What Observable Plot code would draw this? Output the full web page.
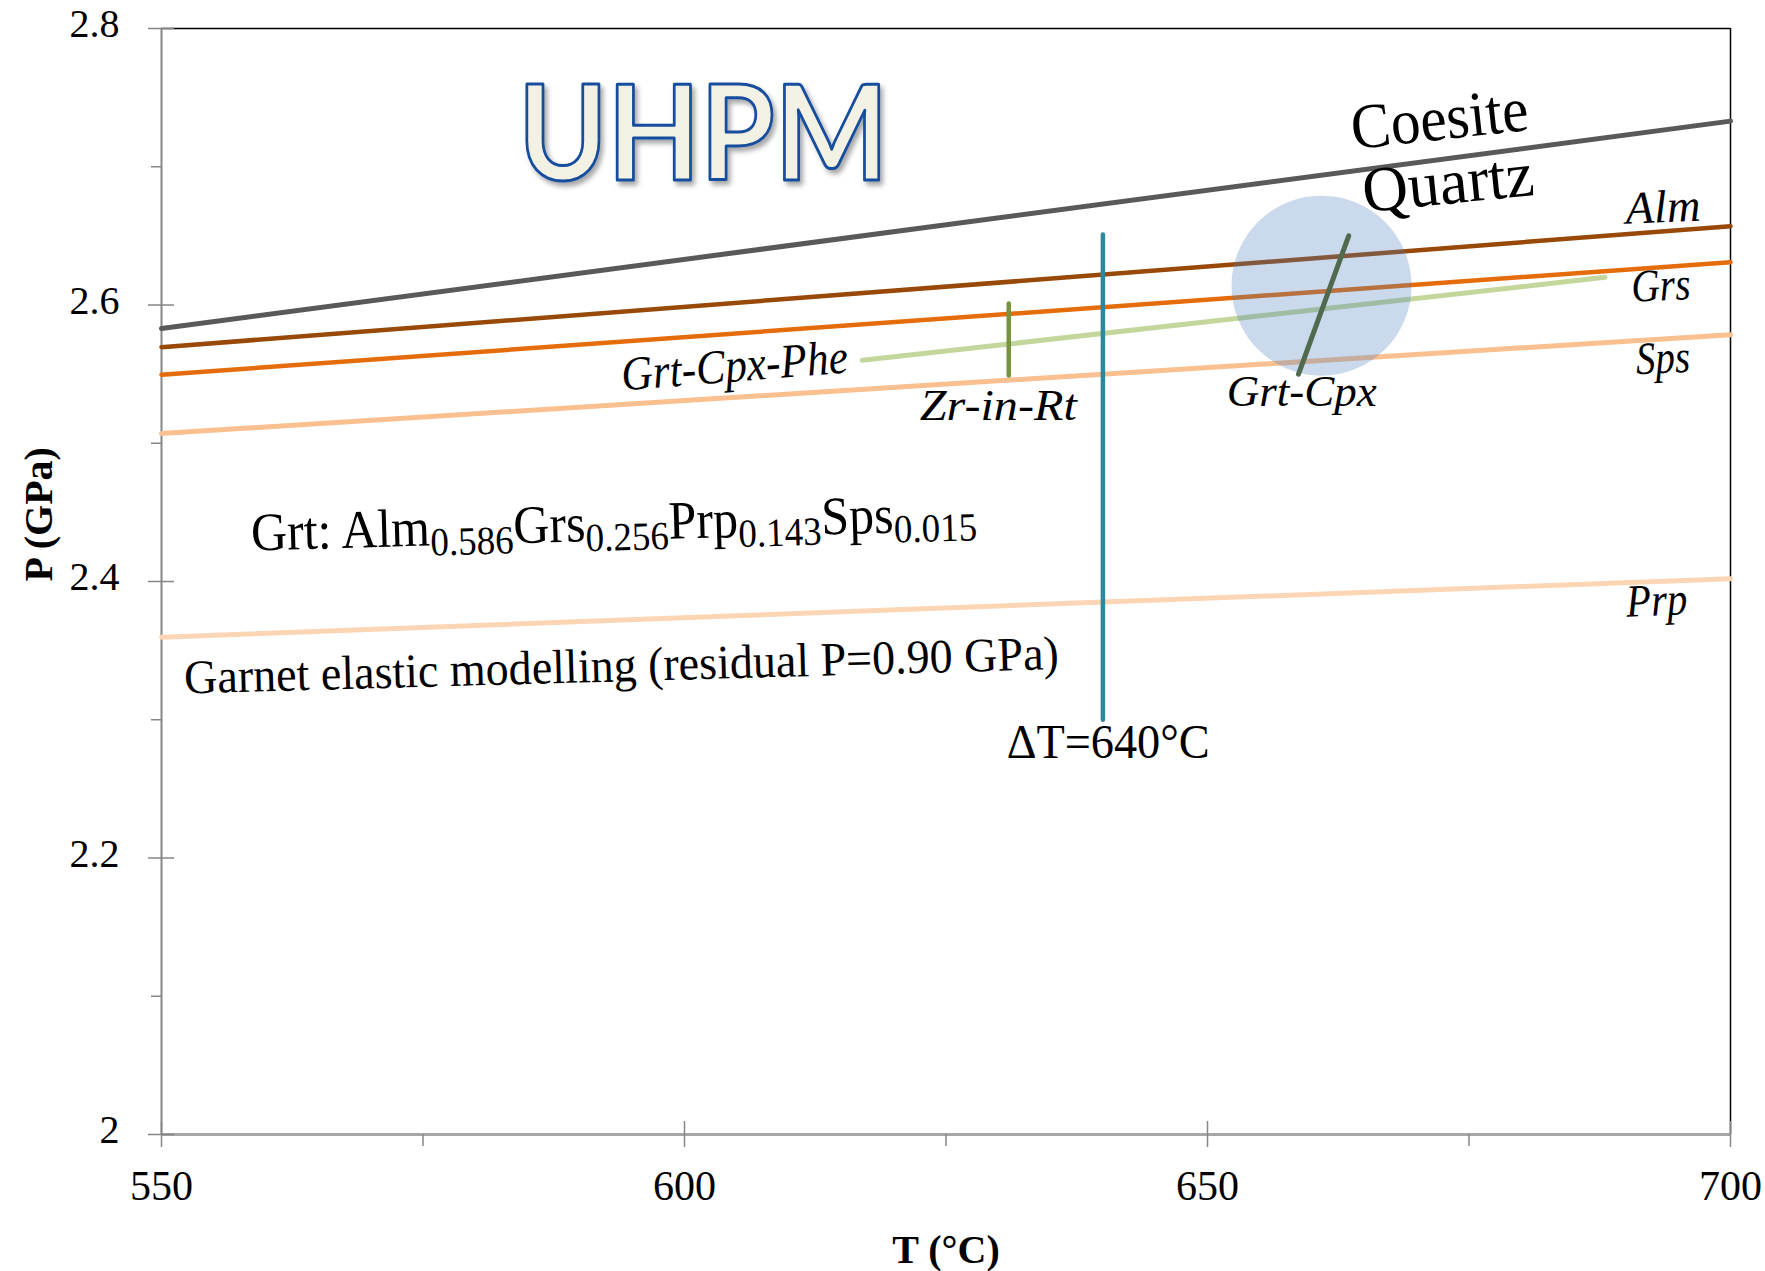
<!DOCTYPE html>
<html>
<head>
<meta charset="utf-8">
<script src="https://cdn.jsdelivr.net/npm/d3@7"></script>
<script src="https://cdn.jsdelivr.net/npm/@observablehq/plot@0.6"></script>
<style>
  html, body { margin: 0; padding: 0; background: #fff; }
  svg text { font-family: "Liberation Serif", serif; }
</style>
</head>
<body>
<div id="chart"></div>
<script>
// ---------- axes ----------
const tDomain = [550, 700];
const pDomain = [2, 2.8];
const tMajorTicks = [550, 600, 650, 700];
const tMinorTicks = [575, 625, 675];
const pMajorTicks = [2, 2.2, 2.4, 2.6, 2.8];
const pMinorTicks = [2.1, 2.3, 2.5, 2.7];

// ---------- boundary / isopleth lines (P at T = 550 and 700 °C) ----------
const boundaryT = [550, 700];
const coesiteQuartzP = [2.583, 2.733];
const almP = [2.5695, 2.657];
const grsP = [2.5496, 2.631];
const spsP = [2.507, 2.5785];
const prpP = [2.3597, 2.402];

// ---------- thermobarometer segments ----------
const grtCpxPheT = [617, 688];
const grtCpxPheP = [2.560, 2.620];
const zrInRtT = [631, 631];
const zrInRtP = [2.549, 2.601];
const deltaTT = [640, 640];
const deltaTP = [2.300, 2.651];
const grtCpxT = [658.7, 663.5];
const grtCpxP = [2.550, 2.650];

// ---------- peak P-T field ----------
const peakT = [660.9];
const peakP = [2.614];

// ---------- labels ----------
const isoplethNames = ["Alm", "Grs", "Sps", "Prp"];
const isoplethLabelT = [693.6, 693.4, 693.6, 693.0];
const isoplethLabelP = [2.660, 2.6033, 2.5508, 2.3754];

const grtFormula = [["Grt: Alm", "0.586"], ["Grs", "0.256"], ["Prp", "0.143"], ["Sps", "0.015"]];
const grtFormulaText = grtFormula.map(d => d.join("")).join("");

const seg = (name, T, P) => T.map((t, i) => ({name, T: t, P: P[i]}));
const pt = (text, T, P) => [{text, T, P}];

const coesiteRows = seg("Coesite-Quartz", boundaryT, coesiteQuartzP);
const almRows = seg("Alm", boundaryT, almP);
const grsRows = seg("Grs", boundaryT, grsP);
const spsRows = seg("Sps", boundaryT, spsP);
const prpRows = seg("Prp", boundaryT, prpP);
const pheRows = seg("Grt-Cpx-Phe", grtCpxPheT, grtCpxPheP);
const zrRows = seg("Zr-in-Rt", zrInRtT, zrInRtP);
const dtRows = seg("ΔT", deltaTT, deltaTP);
const cpxRows = seg("Grt-Cpx", grtCpxT, grtCpxP);
const peakRows = peakT.map((t, i) => ({T: t, P: peakP[i]}));
const isoLabels = isoplethNames.map((n, i) => ({text: n, T: isoplethLabelT[i], P: isoplethLabelP[i]}));

const serif = "Liberation Serif";
const grey = "#868686";
const italic = {x: "T", y: "P", text: "text", fontFamily: serif, fontStyle: "italic", lineAnchor: "bottom", fill: "black"};

const chart = Plot.plot({
  width: 1765,
  height: 1271,
  marginLeft: 161,
  marginRight: 35,
  marginTop: 28,
  marginBottom: 137,
  x: {domain: tDomain},
  y: {domain: pDomain},
  style: {background: "white", fontFamily: serif, color: "black"},
  marks: [
    // frame
    Plot.ruleY([pDomain[1]], {stroke: "black", strokeWidth: 1.5}),
    Plot.ruleX([tDomain[1]], {stroke: "black", strokeWidth: 1.5}),
    Plot.ruleY([pDomain[0]], {stroke: "#A6A6A6", strokeWidth: 3}),
    Plot.ruleX([tDomain[0]], {stroke: grey, strokeWidth: 2}),
    // y axis
    Plot.axisY(pMajorTicks, {tickSize: 0, tickPadding: 42, fontSize: 40, fontFamily: serif, dy: -4, label: null,
      tickFormat: d => String(+d.toFixed(1))}),
    Plot.axisY(pMajorTicks, {tickSize: 26, dx: 13, tickFormat: () => "", label: null, stroke: grey, strokeWidth: 1.5}),
    Plot.axisY(pMinorTicks, {tickSize: 10, tickFormat: () => "", label: null, stroke: grey, strokeWidth: 1.5}),
    // x axis
    Plot.axisX(tMajorTicks, {tickSize: 0, tickPadding: 36, fontSize: 42, fontFamily: serif, label: null}),
    Plot.axisX(tMajorTicks, {tickSize: 26, dy: -13, tickFormat: () => "", label: null, stroke: grey, strokeWidth: 1.5}),
    Plot.axisX(tMinorTicks, {tickSize: 12, tickFormat: () => "", label: null, stroke: grey, strokeWidth: 1.5}),
    // axis titles
    Plot.text(["P (GPa)"], {text: d => d, frameAnchor: "left", dx: -122, rotate: -90, fontSize: 40, fontFamily: serif, fontWeight: "bold", fill: "black"}),
    Plot.text(["T (°C)"], {text: d => d, frameAnchor: "bottom", dy: 128, lineAnchor: "bottom", fontSize: 40, fontFamily: serif, fontWeight: "bold", fill: "black"}),

    // lines
    Plot.line(coesiteRows, {x: "T", y: "P", stroke: "#595959", strokeWidth: 5}),
    Plot.line(almRows, {x: "T", y: "P", stroke: "#984807", strokeWidth: 4.5}),
    Plot.line(grsRows, {x: "T", y: "P", stroke: "#E46C0A", strokeWidth: 4.5}),
    Plot.line(spsRows, {x: "T", y: "P", stroke: "#FAC090", strokeWidth: 5}),
    Plot.line(prpRows, {x: "T", y: "P", stroke: "#FCD5B5", strokeWidth: 5}),
    Plot.line(pheRows, {x: "T", y: "P", stroke: "#C3D69B", strokeWidth: 5, strokeLinecap: "round"}),
    Plot.line(zrRows, {x: "T", y: "P", stroke: "#77933C", strokeWidth: 4.5, strokeLinecap: "round"}),
    Plot.line(dtRows, {x: "T", y: "P", stroke: "#31859C", strokeWidth: 4.5, strokeLinecap: "round"}),
    Plot.dot(peakRows, {x: "T", y: "P", r: 90, fill: "#4F81BD", fillOpacity: 0.3, stroke: null}),
    Plot.line(cpxRows, {x: "T", y: "P", stroke: "#4F6A4F", strokeWidth: 5, strokeLinecap: "round"}),

    // labels
    Plot.text(pt("UHPM", 601.8, 2.6904), {x: "T", y: "P", text: "text", fontFamily: "Lato", fontWeight: "bold",
      fontSize: 132, lineAnchor: "bottom", fill: "#F3F0E4", stroke: "#164D9C", strokeWidth: 3, paintOrder: "normal"}),
    Plot.text(pt("Coesite", 672.4, 2.7197), {...italic, fontStyle: "normal", fontSize: 64, rotate: -6.2}),
    Plot.text(pt("Quartz", 673.2, 2.6734), {...italic, fontStyle: "normal", fontSize: 64, rotate: -5.8}),
    Plot.text(isoLabels, {...italic, fontSize: 46, rotate: -2.5}),
    Plot.text(pt("Grt-Cpx-Phe", 604.9, 2.5447), {...italic, fontSize: 48, rotate: -4.6}),
    Plot.text(pt("Zr-in-Rt", 630.0, 2.5165), {...italic, fontSize: 44}),
    Plot.text(pt("Grt-Cpx", 659.0, 2.5273), {...italic, fontSize: 44}),
    Plot.text(pt("ΔT=640°C", 640.5, 2.272), {...italic, fontStyle: "normal", fontSize: 48}),
    Plot.text(pt(grtFormulaText, 558.6, 2.4224), {...italic, fontStyle: "normal", fontSize: 54, textAnchor: "start", rotate: -1.6}),
    Plot.text(pt("Garnet elastic modelling (residual P=0.90 GPa)", 552.2, 2.319),
      {...italic, fontStyle: "normal", fontSize: 48, textAnchor: "start", rotate: -1.6})
  ]
});

document.getElementById("chart").appendChild(chart);

// ---------- post-processing: subscripts, glyph widths, shadow ----------
const svg = d3.select(chart);
const defs = svg.insert("defs", ":first-child");
const filt = defs.append("filter").attr("id", "uhpmShadow").attr("x", "-10%").attr("y", "-10%").attr("width", "130%").attr("height", "130%");
filt.append("feDropShadow").attr("dx", 3).attr("dy", 4).attr("stdDeviation", 2.5)
  .attr("flood-color", "#000").attr("flood-opacity", 0.35);

const widths = {
  "UHPM": 370,
  "Coesite": 178,
  "Quartz": 172,
  "Alm": 75, "Grs": 59, "Sps": 54, "Prp": 61,
  "Grt-Cpx-Phe": 227,
  "Zr-in-Rt": 157,
  "Grt-Cpx": 150,
  "ΔT=640°C": 203,
  "Garnet elastic modelling (residual P=0.90 GPa)": 875
};
widths[grtFormulaText] = 726;

svg.selectAll("text").each(function () {
  const t = this.textContent;
  if (t === "UHPM") {
    this.setAttribute("filter", "url(#uhpmShadow)");
    this.style.fontFamily = "Lato, sans-serif";
  }
  if (t === grtFormulaText) {
    this.textContent = "";
    const sel = d3.select(this);
    grtFormula.forEach(([main, sub], i) => {
      sel.append("tspan").attr("dy", i === 0 ? null : -10).text(main);
      sel.append("tspan").attr("font-size", 40).attr("dy", 10).text(sub);
    });
  }
  if (widths[t] !== undefined) {
    this.setAttribute("textLength", widths[t]);
    this.setAttribute("lengthAdjust", "spacingAndGlyphs");
  }
});
</script>
</body>
</html>
